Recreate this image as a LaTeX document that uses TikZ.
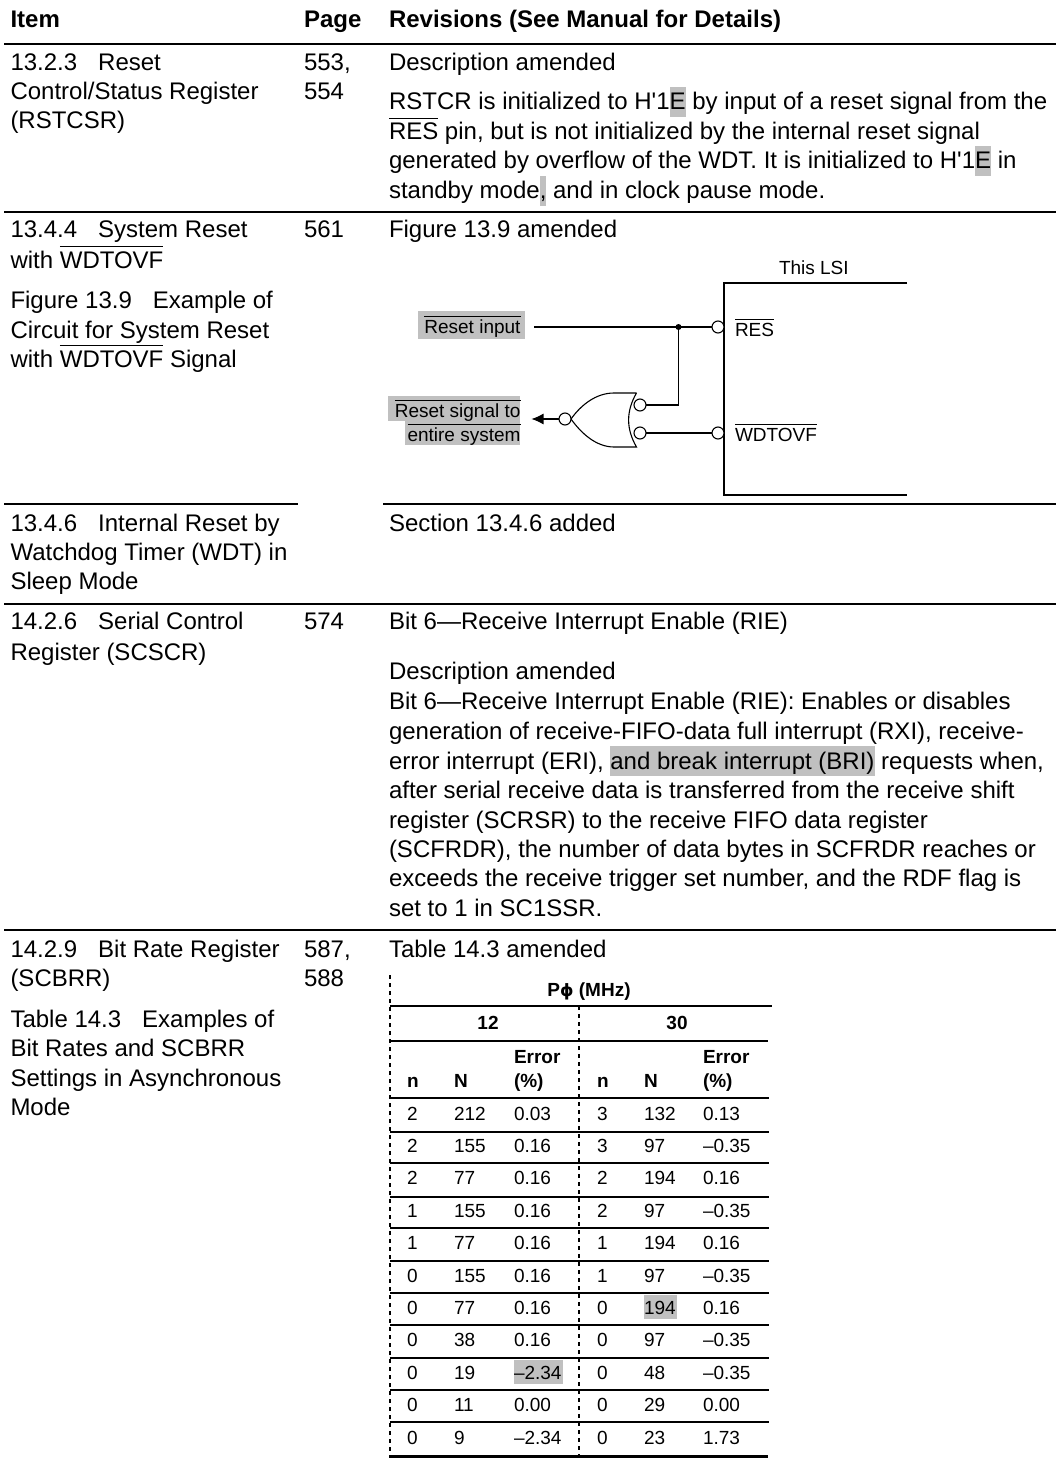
\documentclass[tikz,border=0pt]{standalone}
\usepackage{fontspec}
\setmainfont{Liberation Sans}[Ligatures=TeXOff]
\newfontfamily\phifont{DejaVu Sans}
\usetikzlibrary{arrows.meta}
\definecolor{hlc}{HTML}{C0C0C0}
\setlength{\fboxsep}{0pt}
\newcommand{\fbig}{\fontsize{24}{24}\selectfont}
\newcommand{\fmid}{\fontsize{19}{19}\selectfont}
\newcommand{\ovl}[1]{\leavevmode\setbox0=\hbox{#1}\rlap{\vrule height .92em depth -.87em width \wd0}#1}
\newcommand{\hlt}[1]{\colorbox{hlc}{\vrule height 23pt depth 7pt width 0pt #1}}
\newcommand{\tb}{\hspace{21pt}}
\tikzset{
  base/.style={inner sep=0pt,outer sep=0pt,anchor=base west},
  big/.style={base,font=\fbig},
  head/.style={base,font=\fbig\bfseries},
  small/.style={base,font=\fmid},
  smallb/.style={base,font=\fmid\bfseries},
  smallr/.style={inner sep=0pt,outer sep=0pt,anchor=base east,font=\fmid},
  smallc/.style={inner sep=0pt,outer sep=0pt,anchor=base,font=\fmid\bfseries},
  thick rule/.style={line width=2.4pt},
  rule/.style={line width=1.3pt},
  tab thin/.style={line width=1.1pt},
  tab thick/.style={line width=2.4pt},
  dashv/.style={line width=1.8pt,dash pattern=on 4pt off 4pt},
  wire/.style={line width=1.1pt},
  bub/.style={circle,draw,fill=white,line width=1.1pt,minimum size=12pt,inner sep=0pt,outer sep=0pt},
}
\newcommand{\trow}[8]{%
  \node[small] (a#1) at (407,#2) {#3};
  \node[small] (b#1) at (454,#2) {#4};
  \node[small] (c#1) at (514,#2) {#5};
  \node[small] (d#1) at (597,#2) {#6};
  \node[small] (e#1) at (644,#2) {#7};
  \node[small] (f#1) at (703,#2) {#8};
}
\begin{document}
\begin{tikzpicture}[x=1pt,y=-1pt]
\useasboundingbox (0,0) rectangle (1056,1471);
\fill[white] (0,0) rectangle (1056,1471);
% page rules
\draw[thick rule] (4,44) -- (1056,44);
\draw[rule] (4,212) -- (1056,212);
\draw[rule] (4,504) -- (298,504);
\draw[rule] (383,504) -- (1056,504);
\draw[rule] (4,604) -- (1056,604);
\draw[rule] (4,930) -- (1056,930);
% header
\node[head] (hitem) at (10.5,28) {Item};
\node[head] (hpage) at (304,28) {Page};
\node[head] (hrev) at (389,28) {Revisions (See Manual for Details)};
% row 1
\node[big] (r1a) at (10.5,71) {13.2.3\tb Reset};
\node[big] (r1b) at (10.5,100) {Control/Status Register};
\node[big] (r1c) at (10.5,129) {(RSTCSR)};
\node[big] (r1p) at (304,71) {553,};
\node[big] (r1q) at (304,100) {554};
\node[big] (r1d) at (389,71) {Description amended};
\node[big] (r1e) at (389,110) {RSTCR is initialized to H'1\hlt{E} by input of a reset signal from the};
\node[big] (r1f) at (389,140) {\ovl{RES} pin, but is not initialized by the internal reset signal};
\node[big] (r1g) at (389,169) {generated by overflow of the WDT. It is initialized to H'1\hlt{E} in};
\node[big] (r1h) at (389,199) {standby mode\hlt{,} and in clock pause mode.};
% row 2
\node[big] (r2a) at (10.5,238) {13.4.4\tb System Reset};
\node[big] (r2b) at (10.5,268) {with \ovl{WDTOVF}};
\node[big] (r2c) at (10.5,308) {Figure 13.9\tb Example of};
\node[big] (r2d) at (10.5,338) {Circuit for System Reset};
\node[big] (r2e) at (10.5,367) {with \ovl{WDTOVF} Signal};
\node[big] (r2p) at (304,238) {561};
\node[big] (r2f) at (389,237) {Figure 13.9 amended};
% figure
\fill[hlc] (418,311) rectangle (525,339);
\fill[hlc] (388,396) rectangle (520,421);
\fill[hlc] (405,421) rectangle (520,445);
\draw[wire] (907,283) -- (724,283) -- (724,495) -- (907,495);
\node[small] (lsi) at (779,274) {This LSI};
\node[smallr] (lrst) at (520.5,333) {\ovl{Reset input}};
\node[smallr] (lsig) at (520.5,417) {\ovl{Reset signal to}};
\node[smallr] (lent) at (520.5,441) {\ovl{entire system}};
\node[small] (lres) at (735,336) {\ovl{RES}};
\node[small] (lwd) at (735,441) {\ovl{WDTOVF}};
\coordinate (rin) at (534,327);
\coordinate (jn) at (678.5,327);
\coordinate (sout) at (531.5,419);
\draw[wire,fill=white] (636.5,393) -- (614,393) .. controls (596,393) and (581,405) .. (571,419)
  .. controls (581,433) and (596,447) .. (614,447) -- (636.5,447)
  .. controls (626,429) and (626,411) .. (636.5,393);
\node[bub] (bres) at (718,327) {};
\node[bub] (bwd) at (718,433) {};
\node[bub] (bup) at (640,405) {};
\node[bub] (blo) at (640,433) {};
\node[bub] (bout) at (565,419) {};
\draw[wire] (rin) -- (bres.west);
\draw[wire] (bup.east) -| (jn);
\draw[wire] (blo.east) -- (bwd.west);
\draw[wire,-{Latex[length=12pt,width=11pt]}] (bout.west) -- (sout);
\fill (jn) circle (3pt);
% row 3
\node[big] (r3a) at (10.5,531) {13.4.6\tb Internal Reset by};
\node[big] (r3b) at (10.5,560) {Watchdog Timer (WDT) in};
\node[big] (r3c) at (10.5,589) {Sleep Mode};
\node[big] (r3d) at (389,531) {Section 13.4.6 added};
% row 4
\node[big] (r4a) at (10.5,629) {14.2.6\tb Serial Control};
\node[big] (r4b) at (10.5,660) {Register (SCSCR)};
\node[big] (r4p) at (304,629) {574};
\node[big] (r4c) at (389,629) {Bit 6—Receive Interrupt Enable (RIE)};
\node[big] (r4d) at (389,679) {Description amended};
\node[big] (r4e) at (389,709) {Bit 6—Receive Interrupt Enable (RIE): Enables or disables};
\node[big] (r4f) at (389,739) {generation of receive-FIFO-data full interrupt (RXI), receive-};
\node[big] (r4g) at (389,769) {error interrupt (ERI), \hlt{and break interrupt (BRI)} requests when,};
\node[big] (r4h) at (389,798) {after serial receive data is transferred from the receive shift};
\node[big] (r4i) at (389,828) {register (SCRSR) to the receive FIFO data register};
\node[big] (r4j) at (389,857) {(SCFRDR), the number of data bytes in SCFRDR reaches or};
\node[big] (r4k) at (389,886) {exceeds the receive trigger set number, and the RDF flag is};
\node[big] (r4l) at (389,916) {set to 1 in SC1SSR.};
% row 5
\node[big] (r5a) at (10.5,957) {14.2.9\tb Bit Rate Register};
\node[big] (r5b) at (10.5,986) {(SCBRR)};
\node[big] (r5c) at (10.5,1027) {Table 14.3\tb Examples of};
\node[big] (r5d) at (10.5,1056) {Bit Rates and SCBRR};
\node[big] (r5e) at (10.5,1086) {Settings in Asynchronous};
\node[big] (r5f) at (10.5,1115) {Mode};
\node[big] (r5p) at (304,957) {587,};
\node[big] (r5q) at (304,986) {588};
\node[big] (r5g) at (389,957) {Table 14.3 amended};
% table
\fill[hlc] (644,1295) rectangle (677,1319);
\fill[hlc] (514,1360) rectangle (563,1384);
\draw[dashv] (390,975) -- (390,1455);
\draw[dashv] (579,1006) -- (579,1455);
\draw[tab thick] (390,1006) -- (772,1006);
\draw[line width=2pt] (390,1041) -- (768,1041);
\draw[tab thick] (390,1098) -- (769,1098);
\foreach \y in {1132,1163,1197,1228,1261,1293,1325,1358,1390,1422}
  \draw[tab thin] (390,\y) -- (769,\y);
\draw[line width=3pt] (389,1456) -- (768,1456);
\node[smallc] (tphi) at (589,996) {P{\phifont\fontsize{17}{17}\selectfont ϕ} (MHz)};
\node[smallc] (t12) at (488,1029) {12};
\node[smallc] (t30) at (677,1029) {30};
\node[smallb] (tn1) at (407,1087) {n};
\node[smallb] (tN1) at (454,1087) {N};
\node[smallb] (te1) at (514,1063) {Error};
\node[smallb] (tp1) at (514,1087) {(\%)};
\node[smallb] (tn2) at (597,1087) {n};
\node[smallb] (tN2) at (644,1087) {N};
\node[smallb] (te2) at (703,1063) {Error};
\node[smallb] (tp2) at (703,1087) {(\%)};
\trow{1}{1120}{2}{212}{0.03}{3}{132}{0.13}
\trow{2}{1152.4}{2}{155}{0.16}{3}{97}{–0.35}
\trow{3}{1184.8}{2}{77}{0.16}{2}{194}{0.16}
\trow{4}{1217.2}{1}{155}{0.16}{2}{97}{–0.35}
\trow{5}{1249.6}{1}{77}{0.16}{1}{194}{0.16}
\trow{6}{1282}{0}{155}{0.16}{1}{97}{–0.35}
\trow{7}{1314.4}{0}{77}{0.16}{0}{194}{0.16}
\trow{8}{1346.8}{0}{38}{0.16}{0}{97}{–0.35}
\trow{9}{1379.2}{0}{19}{–2.34}{0}{48}{–0.35}
\trow{10}{1411.6}{0}{11}{0.00}{0}{29}{0.00}
\trow{11}{1444}{0}{9}{–2.34}{0}{23}{1.73}
\end{tikzpicture}
\end{document}
